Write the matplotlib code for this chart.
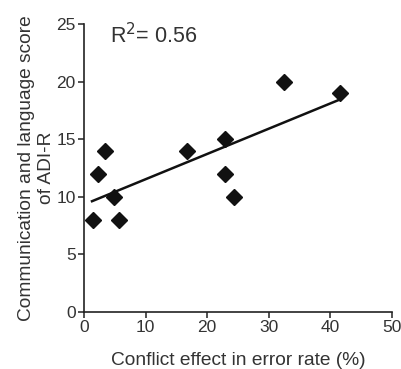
import numpy as np
import matplotlib.pyplot as plt

plt.rcParams['font.family'] = ['Liberation Sans', 'DejaVu Sans']

# puntos (efecto de conflicto vs puntaje ADI-R)
conflict = [1.5, 2.2, 3.4, 4.9, 5.6, 16.7, 22.9, 22.9, 24.4, 32.5, 41.6]
adi_score = [8, 12, 14, 10, 8, 14, 15, 12, 10, 20, 19]

# recta de regresion
fit_x = [1.3, 41.6]
fit_y = [9.6, 18.45]

fig = plt.figure(figsize=(4.01, 3.69), dpi=100)
ax = fig.add_axes([0.2095, 0.1553, 0.768, 0.7797])

ax.plot(conflict, adi_score, 'D', color='#111111', markersize=8.5, clip_on=False)
ax.plot(fit_x, fit_y, color='#111111', linewidth=1.8)

ax.set_xlim(0, 50)
ax.set_ylim(0, 25)
ax.set_xticks(np.arange(0, 51, 10))
ax.set_yticks(np.arange(0, 26, 5))

for s in ['top', 'right']:
    ax.spines[s].set_visible(False)
for s in ['left', 'bottom']:
    ax.spines[s].set_linewidth(1.2)
    ax.spines[s].set_color('#222222')

ax.tick_params(direction='out', length=4, width=1.2, labelsize=12.5, colors='#333333', pad=2)

ax.text(4.2, 24, 'R$^2$= 0.56', fontsize=15.5, va='center', ha='left', color='#333333')

ax.set_xlabel('Conflict effect in error rate (%)', fontsize=13.8, labelpad=12, color='#333333')
ax.set_ylabel('Communication and language score\nof ADI-R', fontsize=13.8, labelpad=0.5,
              color='#333333', linespacing=1.25)

plt.savefig('out.png', dpi=100)
